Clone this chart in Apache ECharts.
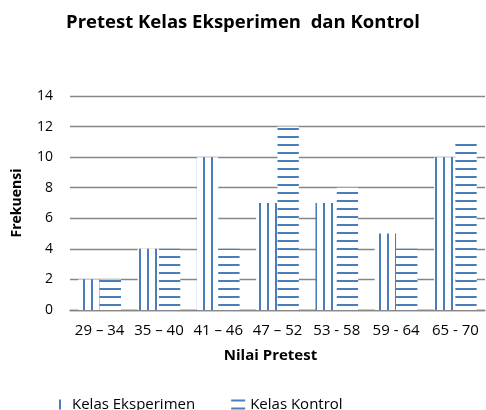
<!DOCTYPE html>
<html>
<head>
<meta charset="utf-8">
<script src="https://cdn.jsdelivr.net/npm/echarts@6/dist/echarts.min.js"></script>
<style>html,body{margin:0;padding:0;background:#fff}#c{width:486px;height:410px}</style>
</head>
<body>
<div id="c"></div>
<script>
const categories = ['29 \u2013 34', '35 \u2013 40', '41 \u2013 46', '47 \u2013 52', '53 - 58', '59 - 64', '65 - 70'];
const eksperimen = [2, 4, 10, 7, 7, 5, 10];
const kontrol = [2, 4, 4, 12, 8, 4, 11];
const yTicks = [0, 2, 4, 6, 8, 10, 12, 14];

const BLUE = '#4a7ebb';
const FONT = '"Open Sans"';

function makePattern(vertical) {
  const c = document.createElement('canvas');
  c.width = 8; c.height = 8;
  const g = c.getContext('2d');
  g.fillStyle = '#ffffff';
  g.fillRect(0, 0, 8, 8);
  g.fillStyle = BLUE;
  if (vertical) g.fillRect(3, 0, 2, 8);
  else g.fillRect(0, 0, 8, 2);
  return c;
}

const chart = echarts.init(document.getElementById('c'), null, {renderer: 'canvas'});
chart.setOption({
  animation: false,
  backgroundColor: '#ffffff',
  title: {
    text: 'Pretest Kelas Eksperimen  dan Kontrol',
    left: 'center', top: 8,
    padding: [5, 0, 5, 6],
    textStyle: {fontFamily: FONT, fontSize: 18.5, fontWeight: 'bold', color: '#000'}
  },
  grid: {left: 70, right: 1, top: 96, bottom: 100, containLabel: false},
  legend: {
    bottom: -2, left: 53,
    itemWidth: 14, itemHeight: 10, itemGap: 36,
    padding: 0,
    textStyle: {fontFamily: FONT, fontSize: 15, color: '#000'},
    data: [
      {name: 'Kelas Eksperimen', icon: 'path://M0,0L0.01,0L0.01,0.01Z M6,0L8,0L8,10L6,10Z M14,10L13.99,10L13.99,9.99Z', itemStyle: {color: BLUE}},
      {name: 'Kelas Kontrol', icon: 'path://M0,0L14,0L14,2L0,2Z M0,8L14,8L14,10L0,10Z', itemStyle: {color: BLUE}}
    ]
  },
  xAxis: {
    type: 'category',
    data: categories,
    name: 'Nilai Pretest',
    nameLocation: 'middle',
    nameGap: 38,
    nameTextStyle: {fontFamily: FONT, fontSize: 15, fontWeight: 'bold', color: '#000', padding: [0, 14, 0, 0]},
    axisLine: {lineStyle: {color: '#868686', width: 1.3}},
    axisTick: {show: false},
    axisLabel: {interval: 0, hideOverlap: false, margin: 13, fontFamily: FONT, fontSize: 15, color: '#000'}
  },
  yAxis: {
    type: 'value',
    min: yTicks[0], max: yTicks[yTicks.length - 1], interval: 2,
    name: 'Frekuensi',
    nameLocation: 'middle',
    nameGap: 46,
    nameRotate: 90,
    nameTextStyle: {fontFamily: FONT, fontSize: 14, fontWeight: 'bold', color: '#000'},
    axisLine: {show: false},
    axisTick: {show: false},
    splitLine: {lineStyle: {color: '#868686', width: 1.3}},
    axisLabel: {margin: 17, fontFamily: FONT, fontSize: 14, color: '#000'}
  },
  series: [
    {
      name: 'Kelas Eksperimen', type: 'bar', data: eksperimen,
      barGap: '0%', barCategoryGap: '28%',
      itemStyle: {color: {image: makePattern(true), repeat: 'repeat'}}
    },
    {
      name: 'Kelas Kontrol', type: 'bar', data: kontrol,
      barGap: '0%', barCategoryGap: '28%',
      itemStyle: {color: {image: makePattern(false), repeat: 'repeat'}}
    }
  ]
});
</script>
</body>
</html>
